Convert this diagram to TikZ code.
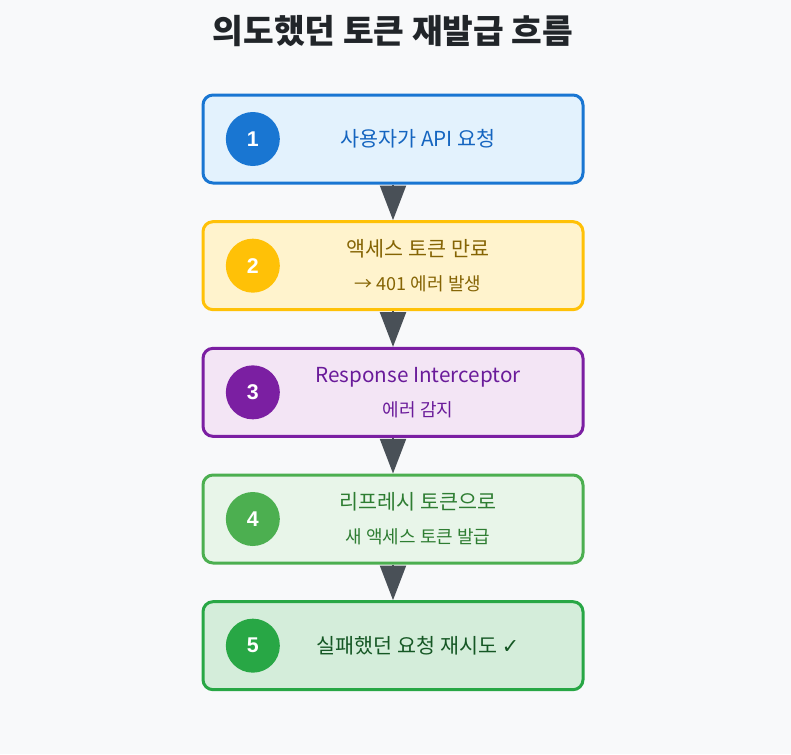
\documentclass[tikz,border=0pt]{standalone}
\usepackage{fontspec}
\setmainfont{Noto Sans CJK KR}
\newfontfamily\numfont{Liberation Sans}
\newfontfamily\marksfont{DejaVu Sans}
\usetikzlibrary{
  arrows.meta,
  positioning
}
\definecolor{PageBg}{HTML}{F8F9FA}
\definecolor{TitleInk}{HTML}{212529}
\definecolor{ArrowGrey}{HTML}{495057}
\definecolor{BlueLine}{HTML}{1976D2}
\definecolor{BlueFill}{HTML}{E3F2FD}
\definecolor{BlueText}{HTML}{1565C0}
\definecolor{AmberLine}{HTML}{FFC107}
\definecolor{AmberFill}{HTML}{FFF3CD}
\definecolor{AmberText}{HTML}{856404}
\definecolor{PurpleLine}{HTML}{7B1FA2}
\definecolor{PurpleFill}{HTML}{F3E5F5}
\definecolor{PurpleText}{HTML}{6A1B9A}
\definecolor{LeafLine}{HTML}{4CAF50}
\definecolor{LeafFill}{HTML}{E8F5E9}
\definecolor{LeafText}{HTML}{2E7D32}
\definecolor{GreenLine}{HTML}{28A745}
\definecolor{GreenFill}{HTML}{D4EDDA}
\definecolor{GreenText}{HTML}{155724}
\tikzset{
  % Flow stage box
  stage/.style={
    rectangle, rounded corners=7.5pt,
    draw=#1Line, fill=#1Fill, line width=2.25pt,
    minimum width=285pt, minimum height=66pt
  },
  % Numbered circle
  badge/.style={
    circle, fill=#1Line, inner sep=0pt,
    minimum size=40.5pt, text=white,
    font=\numfont\bfseries\fontsize{16}{18}\selectfont
  },
  % Stage text
  lbl/.style={text=#1Text, align=center, font=\fontsize{15.5}{25.5}\selectfont},
  % Arrow
  arr/.style={
    -{Triangle[length=26pt,width=19.5pt]},
    line width=1.5pt, color=ArrowGrey
  }
}
\begin{document}
\begin{tikzpicture}
  \fill[PageBg] (0,0) rectangle (593.25pt,-565.5pt);
  \node[font=\bfseries\fontsize{25}{30}\selectfont, text=TitleInk] (title) at (294.75pt,-23.5pt) {의도했던 토큰 재발급 흐름};

  \node[stage=Blue] (request) at (294.75pt,-104.25pt) {};
  \node[stage=Amber,  below=26.75pt of request]   (expire)    {};
  \node[stage=Purple, below=26.75pt of expire]    (intercept) {};
  \node[stage=Leaf,   below=26.75pt of intercept] (reissue)   {};
  \node[stage=Green,  below=26.75pt of reissue]   (retry)     {};

  \node[badge=Blue]   at ([xshift=38.5pt]request.west)   (request-no)   {1};
  \node[badge=Amber]  at ([xshift=38.5pt]expire.west)    (expire-no)    {2};
  \node[badge=Purple] at ([xshift=38.5pt]intercept.west) (intercept-no) {3};
  \node[badge=Leaf]   at ([xshift=38.5pt]reissue.west)   (reissue-no)   {4};
  \node[badge=Green]  at ([xshift=38.5pt]retry.west)     (retry-no)     {5};

  \node[lbl=Blue]   at ([xshift=18.75pt]request.center)   (request-txt)   {사용자가 API 요청};
  \node[lbl=Amber]  at ([xshift=18.75pt]expire.center)    (expire-txt)    {액세스 토큰 만료\\{\fontsize{13.5}{25.5}\selectfont → 401 에러 발생}};
  \node[lbl=Purple] at ([xshift=18.75pt]intercept.center) (intercept-txt) {Response Interceptor\\{\fontsize{13.5}{25.5}\selectfont 에러 감지}};
  \node[lbl=Leaf]   at ([xshift=18.75pt]reissue.center)   (reissue-txt)   {리프레시 토큰으로\\{\fontsize{13.5}{25.5}\selectfont 새 액세스 토큰 발급}};
  \node[lbl=Green]  at ([xshift=18.75pt]retry.center)     (retry-txt)     {실패했던 요청 재시도 {\marksfont ✓}};

  \draw[arr] (request)   -- (expire);
  \draw[arr] (expire)    -- (intercept);
  \draw[arr] (intercept) -- (reissue);
  \draw[arr] (reissue)   -- (retry);
\end{tikzpicture}
\end{document}
